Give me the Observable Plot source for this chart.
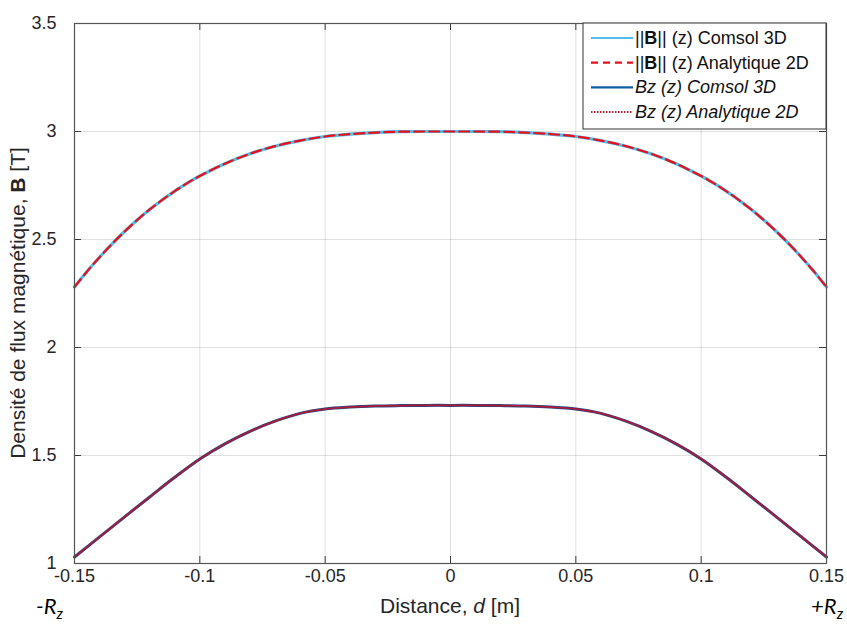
<!DOCTYPE html>
<html><head><meta charset="utf-8">
<script src="https://cdn.jsdelivr.net/npm/d3@7"></script>
<script src="https://cdn.jsdelivr.net/npm/@observablehq/plot@0.6"></script>
<style>body{margin:0;background:#fff;}</style>
</head><body><div id="chart"></div>
<script>
// x positions for ||B|| curves (m)
const distB = [-0.15,-0.145,-0.14,-0.135,-0.13,-0.125,-0.12,-0.115,-0.11,-0.105,-0.1,-0.09,-0.08,-0.07,-0.06,-0.05,-0.04,-0.03,-0.02,-0.01,0,0.01,0.02,0.03,0.04,0.05,0.06,0.07,0.08,0.09,0.1,0.105,0.11,0.115,0.12,0.125,0.13,0.135,0.14,0.145,0.15];
// ||B||(z) Comsol 3D (T)
const normB3D = [2.28,2.352,2.418,2.48,2.537,2.59,2.639,2.683,2.724,2.761,2.794,2.851,2.897,2.932,2.958,2.977,2.988,2.995,2.999,3.0,3.0,3.0,2.999,2.995,2.988,2.977,2.958,2.932,2.897,2.851,2.794,2.761,2.724,2.683,2.639,2.59,2.537,2.48,2.418,2.352,2.28];
// ||B||(z) Analytique 2D (T)
const normB2D = [2.28,2.352,2.418,2.48,2.537,2.59,2.639,2.683,2.724,2.761,2.794,2.851,2.897,2.932,2.958,2.977,2.988,2.995,2.999,3.0,3.0,3.0,2.999,2.995,2.988,2.977,2.958,2.932,2.897,2.851,2.794,2.761,2.724,2.683,2.639,2.59,2.537,2.48,2.418,2.352,2.28];
// x positions for Bz curves (m)
const distBz = [-0.15,-0.14,-0.13,-0.12,-0.11,-0.1,-0.09,-0.08,-0.07,-0.06,-0.05,-0.04,-0.03,-0.02,-0.01,0,0.01,0.02,0.03,0.04,0.05,0.06,0.07,0.08,0.09,0.1,0.11,0.12,0.13,0.14,0.15];
// Bz(z) Comsol 3D (T)
const bz3D = [1.03,1.123,1.216,1.308,1.399,1.484,1.554,1.612,1.659,1.695,1.715,1.724,1.729,1.731,1.732,1.732,1.732,1.731,1.729,1.724,1.715,1.695,1.659,1.612,1.554,1.484,1.399,1.308,1.216,1.123,1.03];
// Bz(z) Analytique 2D (T)
const bz2D = [1.03,1.123,1.216,1.308,1.399,1.484,1.554,1.612,1.659,1.695,1.715,1.724,1.729,1.731,1.732,1.732,1.732,1.731,1.729,1.724,1.715,1.695,1.659,1.612,1.554,1.484,1.399,1.308,1.216,1.123,1.03];

const xTicks = [-0.15,-0.1,-0.05,0,0.05,0.1,0.15];
const yTicks = [1,1.5,2,2.5,3,3.5];
const seriesNames = ["||B|| (z) Comsol 3D","||B|| (z) Analytique 2D","Bz (z) Comsol 3D","Bz (z) Analytique 2D"];

const W = 847, H = 628, mL = 74, mR = 21, mT = 23, mB = 65;
const pw = W - mL - mR, ph = H - mT - mB;

const rows = (xs, ys) => xs.map((x, i) => ({x, y: ys[i]}));
const dNB3 = rows(distB, normB3D), dNB2 = rows(distB, normB2D);
const dBz3 = rows(distBz, bz3D), dBz2 = rows(distBz, bz2D);

const fmt = d => String(d);
const axisColor = "#3a3a3a";
const font = "'Liberation Sans', Arial, sans-serif";

const svgEl = Plot.plot({
  width: W, height: H,
  marginLeft: mL, marginRight: mR, marginTop: mT, marginBottom: mB,
  style: {fontFamily: font, fontSize: "18px", color: "#262626", background: "#fff"},
  x: {domain: [-0.15, 0.15], label: null},
  y: {domain: [1, 3.5], label: null},
  marks: [
    Plot.gridX(xTicks, {stroke: "#000", strokeOpacity: 0.12}),
    Plot.gridY(yTicks, {stroke: "#000", strokeOpacity: 0.12}),
    Plot.line(dNB3, {x: "x", y: "y", curve: "catmull-rom", stroke: "#4DBEEE", strokeWidth: 3.2}),
    Plot.line(dNB2, {x: "x", y: "y", curve: "catmull-rom", stroke: "#E8101A", strokeWidth: 2.2, strokeDasharray: "10,5"}),
    Plot.line(dBz3, {x: "x", y: "y", curve: "catmull-rom", stroke: "#1F4A80", strokeWidth: 3}),
    Plot.line(dBz2, {x: "x", y: "y", curve: "catmull-rom", stroke: "#C8102E", strokeWidth: 1.8, strokeDasharray: "1.5,1.5", strokeOpacity: 0.85}),
    Plot.tickX(xTicks, {x: d => d, insetTop: ph - 7, stroke: axisColor}),
    Plot.tickX(xTicks, {x: d => d, insetBottom: ph - 7, stroke: axisColor}),
    Plot.tickY(yTicks, {y: d => d, insetRight: pw - 7, stroke: axisColor}),
    Plot.tickY(yTicks, {y: d => d, insetLeft: pw - 7, stroke: axisColor}),
    Plot.axisX(xTicks, {tickSize: 0, tickPadding: 6, tickFormat: fmt, label: null, fill: "#262626", fontSize: 18}),
    Plot.axisY(yTicks, {tickSize: 0, tickPadding: 18, tickFormat: fmt, label: null, fill: "#262626", fontSize: 18}),
    Plot.frame({stroke: "#555", strokeWidth: 1.2})
  ]
});
document.getElementById("chart").appendChild(svgEl);

const svg = d3.select(svgEl);

// y-axis label
const yl = svg.append("text")
  .attr("transform", `translate(25,${mT + ph / 2 + 10}) rotate(-90)`)
  .attr("text-anchor", "middle").attr("font-family", font).attr("font-size", 21).attr("fill", "#262626");
yl.append("tspan").text("Densité de flux magnétique, ");
yl.append("tspan").attr("font-weight", "bold").text("B");
yl.append("tspan").text(" [T]");

// x-axis label
const xl = svg.append("text")
  .attr("x", mL + pw / 2).attr("y", 613)
  .attr("text-anchor", "middle").attr("font-family", font).attr("font-size", 21).attr("fill", "#262626");
xl.append("tspan").text("Distance, ");
xl.append("tspan").attr("font-style", "italic").text("d");
xl.append("tspan").text(" [m]");

// -Rz / +Rz annotations
const rz = (x, anchor, sign) => {
  const t = svg.append("text").attr("x", x).attr("y", 614)
    .attr("text-anchor", anchor).attr("font-family", "Lato, 'Open Sans', sans-serif")
    .attr("font-style", "italic").attr("font-size", 22).attr("fill", "#000");
  t.append("tspan").text(sign + "R");
  t.append("tspan").attr("font-size", 15).attr("dy", 5).text("z");
};
rz(36, "start", "-");
rz(843, "end", "+");

// legend
const lg = svg.append("g");
const lx = 583, ly = mT, lw = W - mR - lx, lh = 106;
lg.append("rect").attr("x", lx).attr("y", ly).attr("width", lw).attr("height", lh)
  .attr("fill", "#fff").attr("stroke", "#333").attr("stroke-width", 1);
const styles = [
  {stroke: "#4DBEEE", w: 2.2, dash: null},
  {stroke: "#E8101A", w: 2.2, dash: "7,5"},
  {stroke: "#0F5FA5", w: 2.2, dash: null},
  {stroke: "#C41E3A", w: 2, dash: "1.5,1.5"}
];
seriesNames.forEach((name, i) => {
  const cy = ly + 15 + i * 24.7;
  lg.append("line").attr("x1", lx + 8).attr("x2", lx + 50).attr("y1", cy).attr("y2", cy)
    .attr("stroke", styles[i].stroke).attr("stroke-width", styles[i].w)
    .attr("stroke-dasharray", styles[i].dash);
  const t = lg.append("text").attr("x", lx + 52).attr("y", cy + 6)
    .attr("text-anchor", "start")
    .attr("font-family", font).attr("font-size", 18).attr("fill", "#111");
  if (i < 2) {
    t.append("tspan").text("||");
    t.append("tspan").attr("font-weight", "bold").text("B");
    t.append("tspan").text(name.slice(3));
  } else {
    t.attr("font-style", "italic").text(name);
  }
});
</script>
</body></html>
